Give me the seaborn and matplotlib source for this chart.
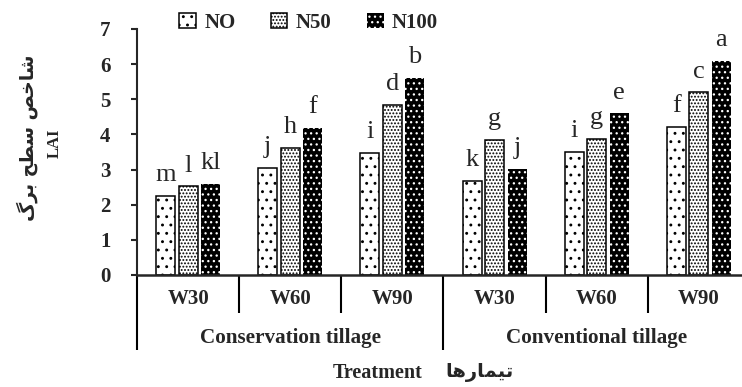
import matplotlib
matplotlib.use("Agg")
import matplotlib.pyplot as plt
import pandas as pd
import seaborn as sns

# chart data
tillage_types = ["Conservation tillage", "Conventional tillage"]
water_levels = ["W30", "W60", "W90"]
nitrogen_levels = ["NO", "N50", "N100"]

lai_no = [2.25, 3.05, 3.47, 2.68, 3.50, 4.22]
lai_n50 = [2.52, 3.62, 4.85, 3.85, 3.88, 5.20]
lai_n100 = [2.60, 4.18, 5.60, 3.03, 4.60, 6.10]

letters_no = ["m", "j", "i", "k", "i", "f"]
letters_n50 = ["l", "h", "d", "g", "g", "c"]
letters_n100 = ["kl", "f", "b", "j", "e", "a"]

ylabel_fa = "شاخص سطح برگ"
ylabel_en = "LAI"
xlabel_fa = "تیمارها"
xlabel_en = "Treatment"

# --- Persian shaping (matplotlib has no text shaping) ---
FORMS = {
    "ا": ("\uFE8D", "\uFE8E", None, None),
    "ب": ("\uFE8F", "\uFE90", "\uFE91", "\uFE92"),
    "ت": ("\uFE95", "\uFE96", "\uFE97", "\uFE98"),
    "ح": ("\uFEA1", "\uFEA2", "\uFEA3", "\uFEA4"),
    "خ": ("\uFEA5", "\uFEA6", "\uFEA7", "\uFEA8"),
    "ر": ("\uFEAD", "\uFEAE", None, None),
    "س": ("\uFEB1", "\uFEB2", "\uFEB3", "\uFEB4"),
    "ش": ("\uFEB5", "\uFEB6", "\uFEB7", "\uFEB8"),
    "ص": ("\uFEB9", "\uFEBA", "\uFEBB", "\uFEBC"),
    "ط": ("\uFEC1", "\uFEC2", "\uFEC3", "\uFEC4"),
    "م": ("\uFEE1", "\uFEE2", "\uFEE3", "\uFEE4"),
    "ه": ("\uFEE9", "\uFEEA", "\uFEEB", "\uFEEC"),
    "ی": ("\u06CC", "\uFBFD", "\uFBFE", "\uFBFF"),
    "گ": ("\u06AF", "\uFB93", "\uFB94", "\uFB95"),
}


def shape_word(word):
    out = []
    for i, ch in enumerate(word):
        iso, fin, ini, med = FORMS[ch]
        prev_joins = i > 0 and FORMS[word[i - 1]][2] is not None
        next_joins = i < len(word) - 1 and ini is not None
        if prev_joins and next_joins:
            out.append(med)
        elif prev_joins:
            out.append(fin)
        elif next_joins:
            out.append(ini)
        else:
            out.append(iso)
    return "".join(out)[::-1]


def rtl(text):
    return " ".join(shape_word(w) for w in text.split()[::-1])


# --- long table for seaborn ---
groups = [t + " " + w for t in tillage_types for w in water_levels]
rows = []
for lvl, vals in zip(nitrogen_levels, [lai_no, lai_n50, lai_n100]):
    for g, v in zip(groups, vals):
        rows.append({"Treatment": g, "Nitrogen": lvl, "LAI": v})
df = pd.DataFrame(rows)

sns.set_style("ticks")
plt.rcParams["font.family"] = ["Liberation Serif", "DejaVu Serif"]
plt.rcParams["hatch.linewidth"] = 0.9

fig = plt.figure(figsize=(7.42, 3.87), dpi=100)
W, H = 742, 387
ax = fig.add_axes([137 / W, 1 - 275 / H, 613 / W, 246 / H])

sns.barplot(data=df, x="Treatment", y="LAI", hue="Nitrogen",
            order=groups, hue_order=nitrogen_levels,
            palette={"NO": "white", "N50": "white", "N100": "black"},
            width=0.66, gap=0.15, edgecolor="black", linewidth=1.1,
            legend=False, ax=ax)

hatches = ["..", ".....", "..."]
for cont, hatch, lvl in zip(ax.containers, hatches, nitrogen_levels):
    for bar in cont:
        bar.set_hatch(hatch)
        if lvl == "N100":
            bar.set_edgecolor("white")
            bar.set_linewidth(0)

# significance letters
for cont, letters in zip(ax.containers, [letters_no, letters_n50, letters_n100]):
    for bar, txt in zip(cont, letters):
        ax.annotate(txt, (bar.get_x() + bar.get_width() / 2, bar.get_height()),
                    xytext=(0, 7), textcoords="offset points",
                    ha="center", va="bottom", fontsize=19)

ax.set_xlim(-0.5, 5.5)
ax.set_ylim(0, 7)
ax.set_yticks(range(0, 8))
ax.tick_params(axis="y", direction="out", length=4, width=1.5, pad=15, labelsize=15)
for lab in ax.get_yticklabels():
    lab.set_fontweight("bold")

ax.set_xticks(range(len(groups)))
ax.set_xticklabels(water_levels * len(tillage_types), fontsize=15, fontweight="bold")
ax.tick_params(axis="x", length=0, pad=10)
ax.set_xlabel("")
ax.set_ylabel("")

for side in ["top", "right"]:
    ax.spines[side].set_visible(False)
ax.spines["left"].set_linewidth(1.5)
ax.spines["bottom"].set_linewidth(1.8)

# group dividers under the axis
trans = ax.get_xaxis_transform()
for i in range(len(groups)):
    x = i - 0.5
    low = -0.305 if i % 3 == 0 else -0.155
    ax.plot([x, x], [0, low], transform=trans, color="black", lw=1.5,
            clip_on=False, solid_capstyle="butt")

for k, name in enumerate(tillage_types):
    ax.text(3 * k + 1, -0.256, name, transform=trans, ha="center", va="center",
            fontsize=15.2, fontweight="bold")

# legend above the plot
ax.legend(ax.containers, nitrogen_levels, loc="center", bbox_to_anchor=(0.28, 1.025),
          ncol=3, frameon=False, handlelength=0.8, handleheight=0.7,
          handletextpad=0.4, columnspacing=1.7, borderpad=0,
          prop={"family": "Liberation Serif", "weight": "bold", "size": 15})

# axis titles
fig.text(27 / W, 1 - 138 / H, rtl(ylabel_fa), rotation=90, ha="center", va="center",
         fontsize=13.5, fontweight="bold", family=["DejaVu Sans"])
fig.text(55 / W, 1 - 143 / H, ylabel_en, rotation=90, ha="center", va="center",
         fontsize=12, fontweight="bold")
fig.text(378 / W, 1 - 373 / H, xlabel_en, ha="center", va="center",
         fontsize=14.5, fontweight="bold")
fig.text(480 / W, 1 - 372 / H, rtl(xlabel_fa), ha="center", va="center",
         fontsize=14, fontweight="bold", family=["DejaVu Sans"])

fig.savefig("out.png", dpi=100)
